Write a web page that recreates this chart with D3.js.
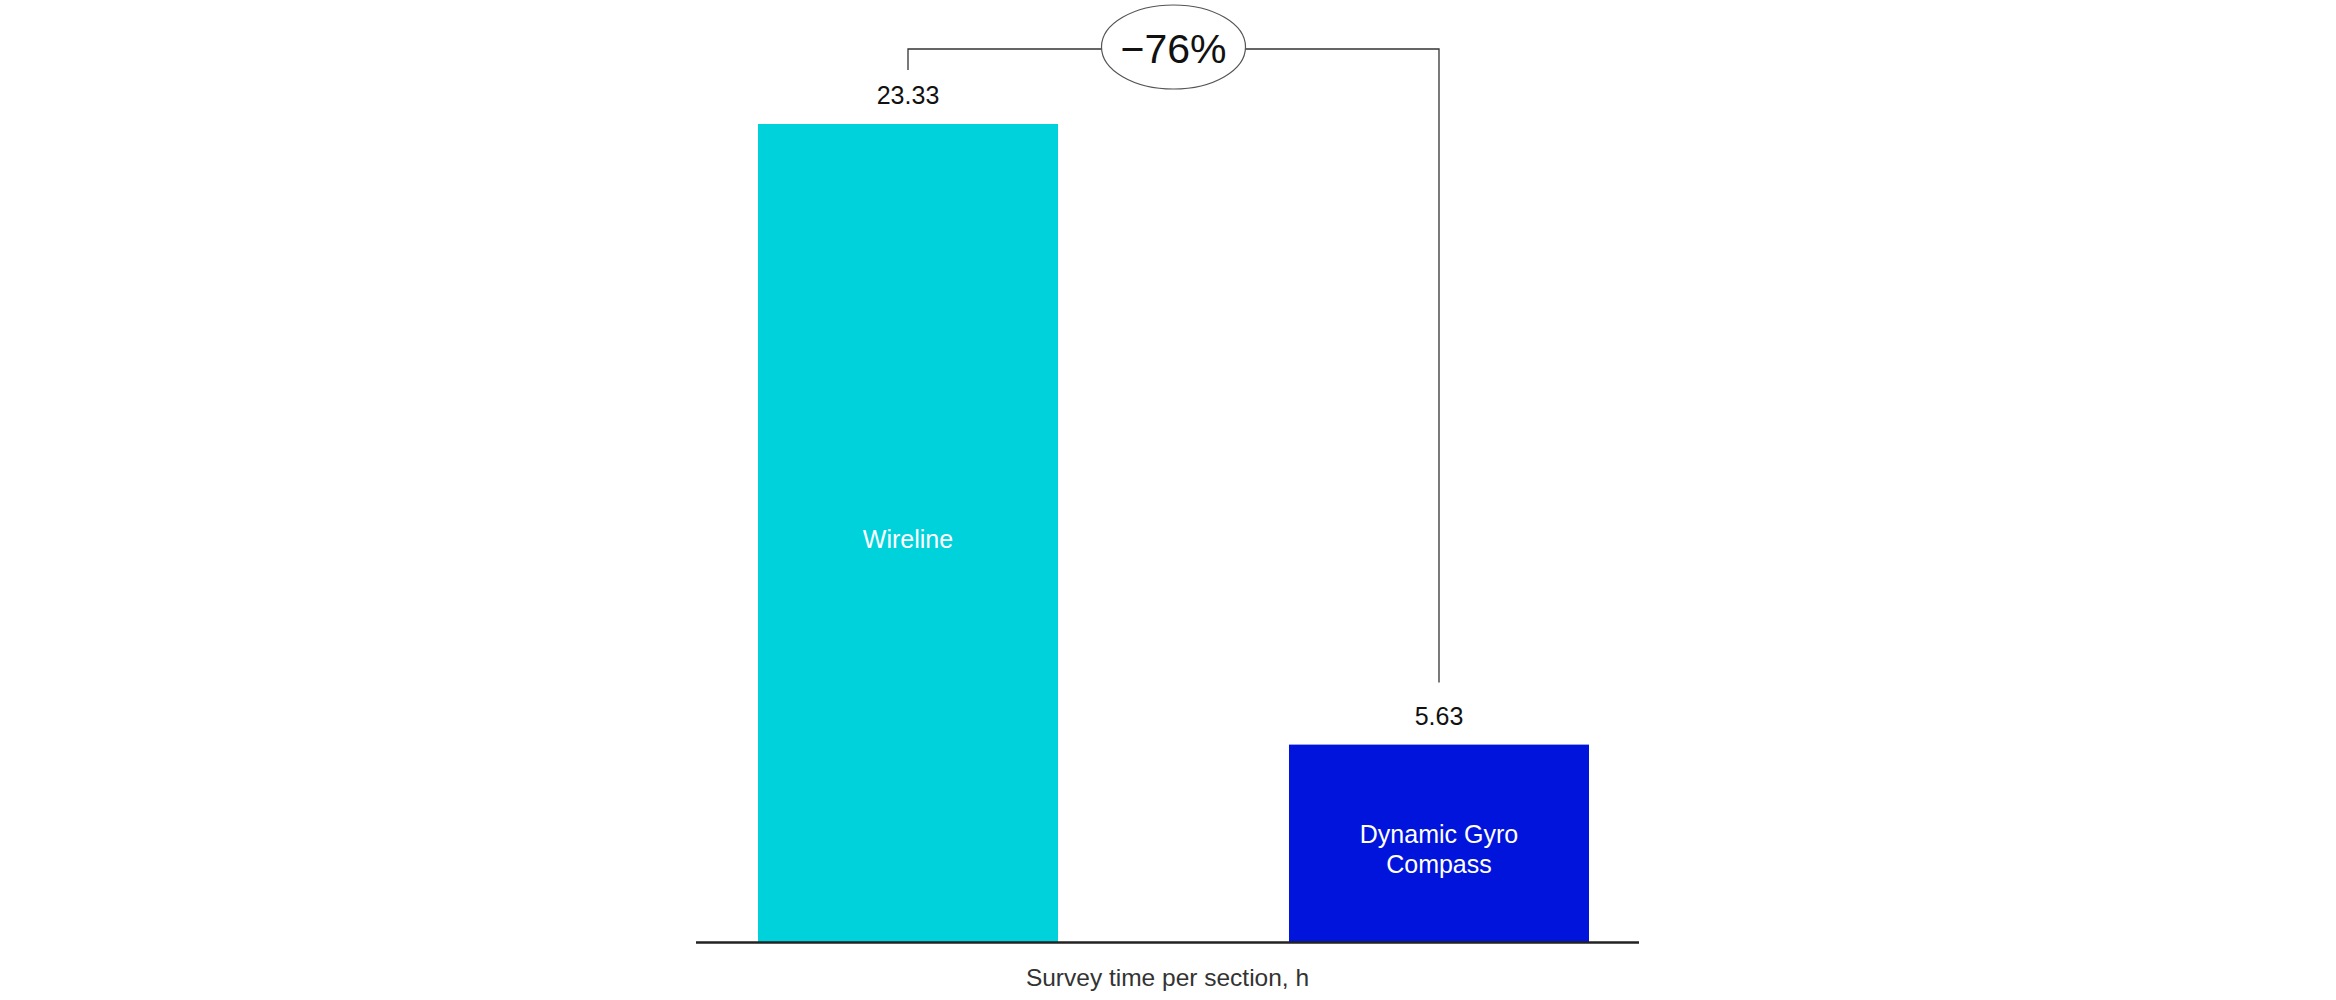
<!DOCTYPE html>
<html>
<head>
<meta charset="utf-8">
<script src="https://cdn.jsdelivr.net/npm/d3@7"></script>
<style>
  html, body { margin: 0; padding: 0; background: #ffffff; }
  svg { display: block; }
  text { font-family: "Liberation Sans", Arial, sans-serif; }
</style>
</head>
<body>
<svg id="chart" width="2336" height="1000"></svg>
<script>
// Data
const categories = ["Wireline", "Dynamic Gyro Compass"];
const categoryLines = [["Wireline"], ["Dynamic Gyro", "Compass"]];
const values = [23.33, 5.63];
const valueLabels = ["23.33", "5.63"];
const changeLabel = "\u221276%";
const axisTitle = "Survey time per section, h";
const colors = ["#00D2DC", "#0014DC"];

const svg = d3.select("#chart");

const x = d3.scaleBand()
  .domain(categories)
  .range([758, 1589])
  .paddingInner(0.435)
  .paddingOuter(0);

const y = d3.scaleLinear()
  .domain([0, d3.max(values)])
  .range([942, 124]);

// Bars
svg.selectAll("rect.bar")
  .data(categories)
  .join("rect")
  .attr("class", "bar")
  .attr("x", d => x(d))
  .attr("width", x.bandwidth())
  .attr("y", (d, i) => y(values[i]))
  .attr("height", (d, i) => y(0) - y(values[i]))
  .attr("fill", (d, i) => colors[i]);

// Baseline axis
svg.append("line")
  .attr("x1", x.range()[0] - 62)
  .attr("x2", x.range()[1] + 50)
  .attr("y1", y(0) + 0.5)
  .attr("y2", y(0) + 0.5)
  .attr("stroke", "#222")
  .attr("stroke-width", 2.5);

// Value labels
svg.selectAll("text.val")
  .data(categories)
  .join("text")
  .attr("class", "val")
  .attr("x", d => x(d) + x.bandwidth() / 2)
  .attr("y", (d, i) => y(values[i]) - 20)
  .attr("text-anchor", "middle")
  .attr("font-size", 25)
  .attr("fill", "#111")
  .text((d, i) => valueLabels[i]);

// Category labels inside bars
categories.forEach((c, i) => {
  const lines = categoryLines[i];
  const cx = x(c) + x.bandwidth() / 2;
  const cy = (y(values[i]) + y(0)) / 2 + 6;
  const t = svg.append("text")
    .attr("text-anchor", "middle")
    .attr("font-size", 25)
    .attr("fill", "#ffffff");
  lines.forEach((ln, j) => {
    t.append("tspan")
      .attr("x", cx)
      .attr("y", cy + (j - (lines.length - 1) / 2) * 30)
      .attr("dy", "0.35em")
      .text(ln);
  });
});

// Bracket with change label
const xa = x(categories[0]) + x.bandwidth() / 2;
const xb = x(categories[1]) + x.bandwidth() / 2;
const ya = y(values[0]) - 54;
const yb = y(values[1]) - 62;
const yTop = 49;
svg.append("path")
  .attr("d", `M${xa},${ya} V${yTop} H${xb} V${yb}`)
  .attr("fill", "none")
  .attr("stroke", "#333")
  .attr("stroke-width", 1.3);

const ex = (xa + xb) / 2;
svg.append("ellipse")
  .attr("cx", ex)
  .attr("cy", 47)
  .attr("rx", 72)
  .attr("ry", 42)
  .attr("fill", "#ffffff")
  .attr("stroke", "#555")
  .attr("stroke-width", 1.2);

svg.append("text")
  .attr("x", ex)
  .attr("y", 63)
  .attr("text-anchor", "middle")
  .attr("font-size", 41)
  .attr("fill", "#111")
  .text(changeLabel);

// Axis title
svg.append("text")
  .attr("x", (x.range()[0] - 62 + x.range()[1] + 50) / 2)
  .attr("y", 986)
  .attr("text-anchor", "middle")
  .attr("font-size", 24.5)
  .attr("fill", "#333")
  .text(axisTitle);
</script>
</body>
</html>
